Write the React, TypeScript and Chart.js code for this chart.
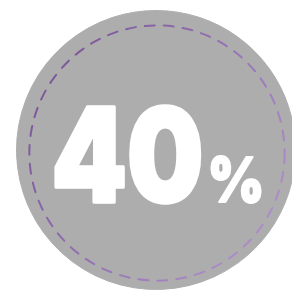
import React, { useEffect, useRef } from "react";
import { Chart, registerables } from "chart.js";

Chart.register(...registerables);

const labels = ["Share", "Rest"];
const values = [40, 60];
const valueLabel = "40";
const unitLabel = "%";

const App: React.FC = () => {
  const ref = useRef<HTMLCanvasElement | null>(null);

  useEffect(() => {
    document.body.style.margin = "0";
    document.body.style.overflow = "hidden";
    const canvas = ref.current!;
    const feltPlugin = {
      id: "felt",
      afterDatasetsDraw(chart: any) {
        const ctx = chart.ctx as CanvasRenderingContext2D;
        const arc = chart.getDatasetMeta(0).data[0] as any;
        const { x, y, outerRadius } = arc.getProps(["x", "y", "outerRadius"], true);
        // stitched dashed ring
        ctx.save();
        ctx.beginPath();
        ctx.arc(x + 1, y + 3, outerRadius * 0.915, 0, Math.PI * 2);
        const g = ctx.createLinearGradient(x - outerRadius, y - outerRadius * 0.3, x + outerRadius, y + outerRadius);
        g.addColorStop(0, "#7a5699");
        g.addColorStop(1, "#b898d4");
        ctx.strokeStyle = g;
        ctx.lineWidth = 2;
        ctx.lineCap = "round";
        ctx.setLineDash([10, 9]);
        ctx.stroke();
        ctx.restore();

        // big number
        ctx.save();
        ctx.fillStyle = "#ffffff";
        ctx.strokeStyle = "#ffffff";
        ctx.lineJoin = "round";
        ctx.textBaseline = "alphabetic";
        ctx.font = "900 130px Inter, Lato, 'DejaVu Sans'";
        const w = ctx.measureText(valueLabel).width;
        const targetW = 152;
        ctx.save();
        ctx.translate(x - outerRadius * 0.75, y + outerRadius * 0.375);
        ctx.scale(targetW / w, 1);
        ctx.lineWidth = 3.5;
        ctx.fillText(valueLabel, 0, 0);
        ctx.strokeText(valueLabel, 0, 0);
        ctx.restore();

        ctx.font = "900 62px Inter, Lato, 'DejaVu Sans'";
        const w2 = ctx.measureText(unitLabel).width;
        ctx.save();
        ctx.translate(x + outerRadius * 0.37, y + outerRadius * 0.375);
        ctx.scale(57 / w2, 1);
        ctx.lineWidth = 2;
        ctx.fillText(unitLabel, 0, 0);
        ctx.strokeText(unitLabel, 0, 0);
        ctx.restore();
        ctx.restore();
      },
    };
    const chart = new Chart(canvas, {
      type: "pie",
      data: {
        labels,
        datasets: [
          {
            data: values,
            backgroundColor: ["#adadad", "#adadad"],
            borderColor: ["#adadad", "#adadad"],
            borderWidth: 1,
          },
        ],
      },
      options: {
        responsive: false,
        animation: false,
        layout: { padding: { left: 16, right: 4, top: 10, bottom: 5 } },
        plugins: { legend: { display: false }, tooltip: { enabled: false } },
      },
      plugins: [feltPlugin],
    });
    return () => chart.destroy();
  }, []);

  return (
    <div style={{ position: "fixed", left: 0, top: 0, width: 292, height: 295, overflow: "hidden", background: "#fff" }}>
      <canvas ref={ref} width={300} height={295} style={{ width: 300, height: 295, display: "block" }} />
    </div>
  );
};

export default App;
